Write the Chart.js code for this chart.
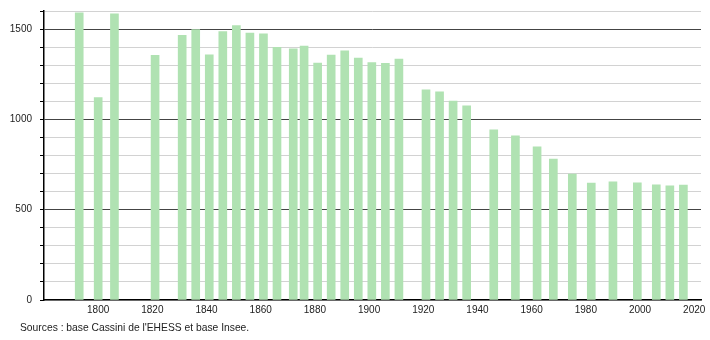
<!DOCTYPE html>
<html>
<head>
<meta charset="utf-8">
<script src="https://cdn.jsdelivr.net/npm/chart.js@4/dist/chart.umd.min.js"></script>
<style>
  html, body { margin: 0; padding: 0; background: #fff; }
  #wrap { position: relative; width: 710px; height: 340px; }
  #source {
    position: absolute; left: 20px; top: 322px;
    font: 10.3px "Liberation Sans", Arial, sans-serif; color: #222;
    white-space: nowrap;
  }
</style>
</head>
<body>
<div id="wrap">
  <canvas id="chart" width="710" height="340"></canvas>
  <div id="source">Sources : base Cassini de l'EHESS et base Insee.</div>
</div>
<script>
// Années des recensements
const years = [1793, 1800, 1806, 1821, 1831, 1836, 1841, 1846, 1851, 1856, 1861, 1866,
  1872, 1876, 1881, 1886, 1891, 1896, 1901, 1906, 1911, 1921, 1926, 1931, 1936,
  1946, 1954, 1962, 1968, 1975, 1982, 1990, 1999, 2006, 2011, 2016];

// Population
const population = [1590, 1120, 1585, 1355, 1465, 1497, 1358, 1486, 1519, 1478, 1474, 1399,
  1391, 1406, 1312, 1356, 1380, 1340, 1314, 1310, 1334, 1164, 1153, 1101, 1075,
  942, 909, 848, 780, 697, 647, 654, 649, 637, 632, 636];

const yearTicks = [1800, 1820, 1840, 1860, 1880, 1900, 1920, 1940, 1960, 1980, 2000, 2020];
const popLabels = [0, 500, 1000, 1500];

const font = { family: '"Liberation Sans", Arial, sans-serif', size: 10 };

new Chart(document.getElementById('chart'), {
  type: 'bar',
  data: {
    datasets: [{
      data: years.map((y, i) => ({ x: y, y: population[i] })),
      backgroundColor: '#b0e2b2',
      borderWidth: 0,
      barThickness: 8
    }]
  },
  options: {
    responsive: false,
    animation: false,
    layout: { padding: { top: 11, right: 9, left: 0, bottom: 0 } },
    plugins: { legend: { display: false }, tooltip: { enabled: false } },
    scales: {
      x: {
        type: 'linear',
        min: 1780,
        max: 2022.5,
        offset: false,
        afterBuildTicks: (s) => { s.ticks = yearTicks.map(v => ({ value: v })); },
        afterFit: (s) => { s.height = 40; s.paddingLeft = 0; s.paddingRight = 0; },
        grid: { display: false, drawTicks: false },
        border: { color: '#000', width: 1.5 },
        ticks: { color: '#222', font: font, padding: 4, maxRotation: 0, autoSkip: false,
          callback: (v) => String(v) }
      },
      y: {
        min: 0,
        max: 1600,
        afterFit: (s) => { s.width = 44; s.paddingTop = 0; s.paddingBottom = 0; },
        grid: {
          color: (c) => c.tick.value % 500 === 0 && c.tick.value > 0 ? '#444' : '#d2d2d2',
          tickColor: '#000',
          tickLength: 4,
          lineWidth: 1
        },
        border: { color: '#000', width: 1.5 },
        ticks: {
          stepSize: 100,
          color: '#222',
          font: font,
          padding: 8,
          autoSkip: false,
          callback: (v) => popLabels.includes(v) ? String(v) : ''
        }
      }
    }
  }
});
</script>
</body>
</html>
